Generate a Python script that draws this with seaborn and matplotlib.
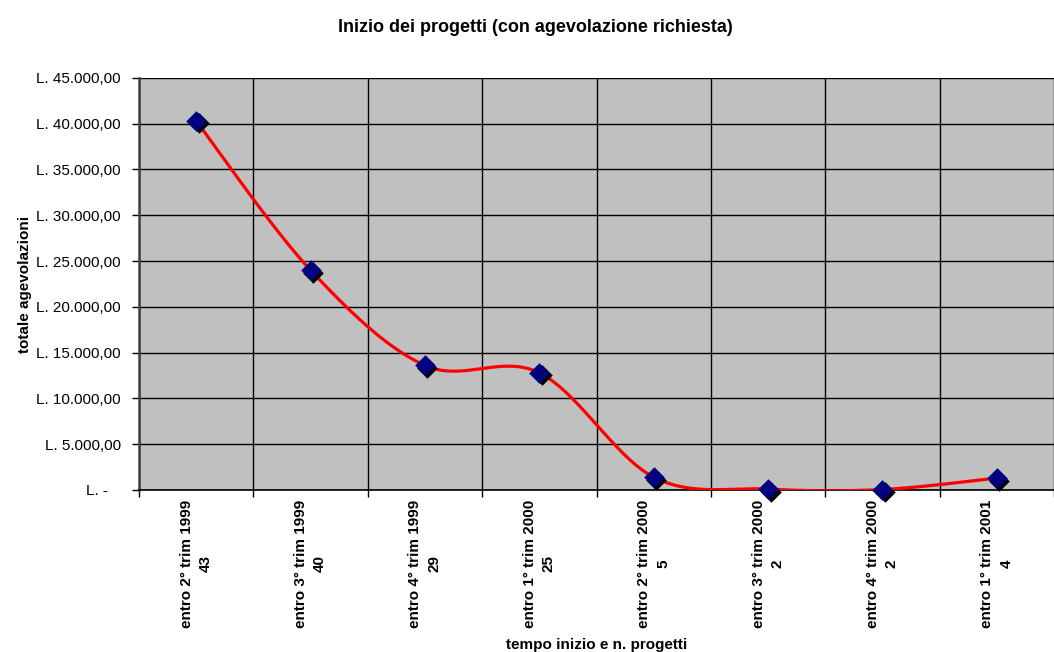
import numpy as np
import pandas as pd
import seaborn as sns
import matplotlib.pyplot as plt
import matplotlib.transforms as mtransforms
from matplotlib.ticker import FuncFormatter, FixedLocator

# dati
periodi = ['entro 2° trim 1999', 'entro 3° trim 1999', 'entro 4° trim 1999',
           'entro 1° trim 2000', 'entro 2° trim 2000', 'entro 3° trim 2000',
           'entro 4° trim 2000', 'entro 1° trim 2001']
n_progetti = [43, 40, 29, 25, 5, 2, 2, 4]
agevolazioni = [40300, 24000, 13600, 12800, 1400, 100, 50, 1300]

etichette = [f'{p}\n{n}' for p, n in zip(periodi, n_progetti)]
df = pd.DataFrame({'pos': np.arange(len(periodi)), 'valore': agevolazioni})

plt.rcParams['font.family'] = ['Liberation Sans', 'DejaVu Sans']

# curva smussata stile Excel (Catmull-Rom -> Bezier)
def smussa(x, y, n=40):
    P = np.column_stack([x, y]).astype(float)
    P = np.vstack([P[0], P, P[-1]])
    out = []
    for i in range(1, len(P) - 2):
        p0, p1, p2, p3 = P[i - 1], P[i], P[i + 1], P[i + 2]
        c1 = p1 + (p2 - p0) / 6
        c2 = p2 - (p3 - p1) / 6
        t = np.linspace(0, 1, n)[:, None]
        b = ((1 - t) ** 3) * p1 + 3 * ((1 - t) ** 2) * t * c1 + 3 * (1 - t) * t ** 2 * c2 + t ** 3 * p2
        out.append(b)
    out = np.vstack(out)
    return out[:, 0], out[:, 1]

sx, sy = smussa(df['pos'], df['valore'])
curva = pd.DataFrame({'x': sx, 'y': sy})

fig = plt.figure(figsize=(10.54, 6.52), dpi=100)
ax = fig.add_axes([0.1319, 0.2485, 0.8681, 0.632])
ax.set_facecolor('#C0C0C0')

sns.lineplot(data=curva, x='x', y='y', sort=False, color='#FF0000', linewidth=2.3, ax=ax, zorder=3)

# ombra dei marker
ombra = mtransforms.offset_copy(ax.transData, fig=fig, x=2.5, y=-2.5, units='dots')
ax.scatter(df['pos'], df['valore'], marker='D', s=110, color='black', linewidths=0,
           transform=ombra, zorder=4, clip_on=False)
sns.scatterplot(data=df, x='pos', y='valore', marker='D', s=110, color='#000080',
                linewidth=0, ax=ax, zorder=5, clip_on=False)

ax.set_xlim(-0.5, len(periodi) - 0.5)
ax.set_ylim(0, 45000)
ax.set_yticks(np.arange(0, 45001, 5000))

def formato(v, pos):
    if v == 0:
        return 'L. -   '
    s = f'{v:,.2f}'.replace(',', 'X').replace('.', ',').replace('X', '.')
    return f'L. {s}'

ax.yaxis.set_major_formatter(FuncFormatter(formato))
ax.set_xticks(df['pos'])
ax.set_xticklabels(etichette, rotation=90, fontweight='bold', fontsize=11,
                   ha='center', va='top', multialignment='center', linespacing=1.45)
ax.xaxis.set_minor_locator(FixedLocator(np.arange(-0.5, len(periodi), 1)))
ax.tick_params(axis='x', which='major', length=0, pad=7)
ax.tick_params(axis='x', which='minor', length=5, width=1, color='black')
ax.tick_params(axis='y', length=5, width=1, labelsize=11, pad=8)

ax.grid(False)
ax.grid(True, axis='y', which='major', color='black', linewidth=1)
ax.grid(True, axis='x', which='minor', color='black', linewidth=1)
ax.set_axisbelow(True)

for s in ['top', 'right']:
    ax.spines[s].set_visible(False)
ax.spines['left'].set_color('#404040')
ax.spines['left'].set_linewidth(1.8)
ax.spines['bottom'].set_color('black')
ax.spines['bottom'].set_linewidth(1.2)

ax.set_xlabel('tempo inizio e n. progetti', fontweight='bold', fontsize=11, labelpad=7)
ax.set_ylabel('totale agevolazioni', fontweight='bold', fontsize=11, labelpad=3)
fig.text(0.5075, 0.958, 'Inizio dei progetti (con agevolazione richiesta)',
         ha='center', va='center', fontweight='bold', fontsize=13)

fig.savefig('out.png', dpi=100)
